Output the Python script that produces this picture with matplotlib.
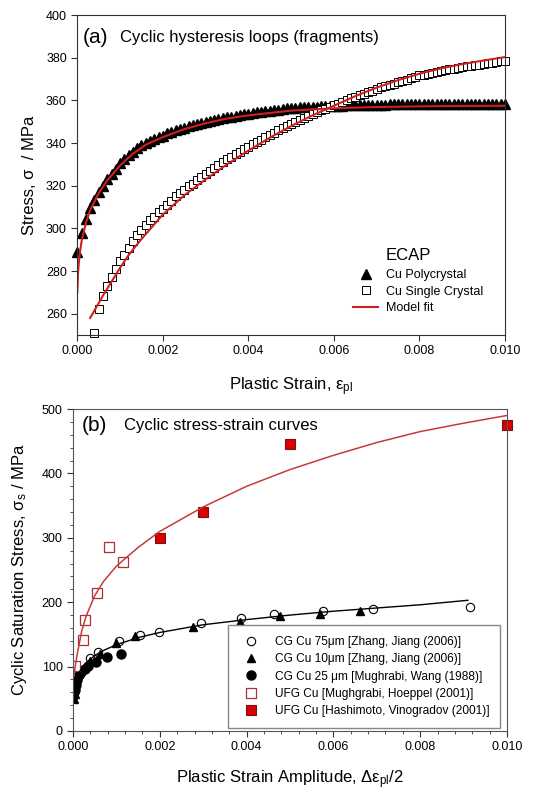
import matplotlib.pyplot as plt
import numpy as np

plt.rcParams["font.family"] = ["Liberation Sans", "DejaVu Sans"]
plt.rcParams["mathtext.fontset"] = "custom"
plt.rcParams["mathtext.rm"] = "Liberation Sans"
plt.rcParams["mathtext.it"] = "Liberation Sans"

# ---- (a) cyclic hysteresis loop fragments, sampled every 0.0001 strain
strain_poly = np.arange(0, 101) / 10000
stress_poly = [
    289, 298, 304.5, 309.5, 313.5, 317, 320, 323, 325.5, 328,
    330.5, 332.5, 334.5, 336, 337.5, 339, 340, 341, 342, 343,
    343.5, 344.5, 345.2, 346, 346.5, 347.2, 347.8, 348.4, 349, 349.5,
    350, 350.5, 351, 351.3, 351.7, 352, 352.4, 352.8, 353.1, 353.5,
    353.8, 354.1, 354.4, 354.7, 355, 355.2, 355.5, 355.7, 356, 356.2,
    356.4, 356.6, 356.7, 356.8, 356.9, 357, 357.1, 357.2, 357.3, 357.4,
    357.5, 357.6, 357.6, 357.7, 357.7, 357.8, 357.8, 357.9, 357.9, 358,
    358, 358, 358, 358.1, 358.1, 358.1, 358.1, 358.2, 358.2, 358.2,
    358.2, 358.2, 358.3, 358.3, 358.3, 358.3, 358.3, 358.3, 358.4, 358.4,
    358.4, 358.4, 358.4, 358.4, 358.4, 358.5, 358.5, 358.5, 358.5, 358.5,
    358.5,
]
strain_single = np.arange(4, 101) / 10000
stress_single = [
    251, 262, 268.2, 272.8, 277.2, 280.8,
    284.5, 287.5, 291, 294, 296.8, 299.3, 301.7, 303.8, 305.5, 307.5,
    309.2, 311, 313, 315, 316.5, 318, 319.8, 321, 322.5, 324,
    325.3, 326.8, 328.2, 329.6, 331, 332.3, 333.5, 334.8, 336, 337.1,
    338.2, 339.4, 340.5, 341.6, 342.7, 343.8, 344.9, 346, 347, 348,
    349, 350, 350.9, 351.8, 352.7, 353.6, 354.5, 355.3, 356.1, 356.9,
    357.7, 358.5, 359.3, 360.1, 360.9, 361.7, 362.4, 363.1, 363.8, 364.6,
    365.5, 366.1, 366.7, 367.3, 367.9, 368.5, 369.1, 369.7, 370.3, 371,
    371.7, 372.1, 372.5, 372.9, 373.3, 373.7, 374.1, 374.5, 374.9, 375.2,
    375.6, 375.9, 376.2, 376.5, 376.8, 377.1, 377.4, 377.7, 378, 378.3,
    378.7,
]
fit_poly_strain = [0, 0.00002, 0.00005, 0.0001, 0.0002, 0.0003, 0.0005, 0.0007,
                   0.001, 0.0013, 0.0016, 0.002, 0.0025, 0.003, 0.0035, 0.004,
                   0.005, 0.006, 0.007, 0.008, 0.009, 0.01]
fit_poly_stress = [270, 280, 287, 294, 302.5, 308.5, 316.5, 322.5,
                   329.5, 335, 339.2, 342.8, 346.5, 349.3, 351.5, 353,
                   355.2, 356.3, 356.9, 357.2, 357.4, 357.5]
fit_single_strain = [0.0003, 0.0004, 0.0005, 0.0006, 0.0008, 0.001, 0.0012, 0.0015,
                     0.002, 0.0025, 0.003, 0.0035, 0.004, 0.0045, 0.005, 0.0055,
                     0.006, 0.0065, 0.007, 0.0075, 0.008, 0.0085, 0.009, 0.0095, 0.01]
fit_single_stress = [258, 261.5, 265, 268.5, 275, 281.5, 287.5, 295,
                     306.5, 315.5, 323, 330, 336.5, 342.5, 348, 353,
                     357.5, 362, 366, 369.5, 372.5, 375, 377, 378.7, 380.3]

# ---- (b) cyclic stress-strain curves
cg75_strain = [0.00005, 0.00015, 0.00025, 0.0004, 0.00058, 0.00106, 0.00154, 0.00198,
               0.00296, 0.00386, 0.00464, 0.00575, 0.00691, 0.00915]
cg75_stress = [72, 88, 97, 114, 123, 139, 149, 153, 167, 175, 182, 187, 189, 193]
cg10_strain = [0.00002, 0.00005, 0.0004, 0.00062, 0.00098, 0.00144, 0.00277,
               0.00385, 0.00477, 0.0057, 0.00662]
cg10_stress = [50, 58, 108, 120, 136, 147, 162, 169, 178, 182, 186]
cg25_strain = [0.00001, 0.00002, 0.00004, 0.00006, 0.00009, 0.00014, 0.00019,
               0.00027, 0.00034, 0.00054, 0.00078, 0.0011]
cg25_stress = [55, 60, 64, 71, 79, 87, 92, 97, 101, 107, 115, 119]
ufg_mh_strain = [0.00005, 0.00022, 0.00027, 0.00055, 0.00083, 0.00115]
ufg_mh_stress = [101, 141, 172, 214, 285, 262]
ufg_hv_strain = [0.002, 0.003, 0.005, 0.010]
ufg_hv_stress = [300, 340, 445, 475]
fit_cg_strain = [0.00001, 0.00003, 0.00006, 0.0001, 0.0002, 0.0003, 0.0005, 0.0007,
                 0.001, 0.0015, 0.002, 0.003, 0.004, 0.005, 0.006, 0.007, 0.008, 0.0091]
fit_cg_stress = [55, 68, 78, 86, 98, 106, 117, 125, 134, 145, 153, 165, 173, 180,
                 186, 191, 196, 203]
fit_ufg_strain = [0.00002, 0.00005, 0.0001, 0.0002, 0.0003, 0.0005, 0.0007, 0.001,
                  0.0015, 0.002, 0.003, 0.004, 0.005, 0.006, 0.007, 0.008, 0.009, 0.010]
fit_ufg_stress = [85, 100, 120, 155, 178, 210, 232, 256, 285, 310, 348, 380, 406,
                  428, 448, 465, 478, 490]

red = "#d0201e"
xticks = [0, 0.002, 0.004, 0.006, 0.008, 0.010]
xticklabels = ["0.000", "0.002", "0.004", "0.006", "0.008", "0.010"]

fig = plt.figure(figsize=(5.53, 7.93), dpi=100)
ax1 = fig.add_axes([0.1398, 0.5775, 0.7734, 0.4035])
ax2 = fig.add_axes([0.132, 0.0782, 0.7848, 0.406])

# panel (a)
ax1.plot(strain_poly, stress_poly, ls="none", marker="^", ms=6.5, color="black",
         clip_on=False, label="Cu Polycrystal")
ax1.plot(strain_single, stress_single, ls="none", marker="s", ms=6, mfc="white",
         mec="black", mew=0.7, clip_on=False, label="Cu Single Crystal")
ax1.plot(fit_poly_strain, fit_poly_stress, color=red, lw=1.5, label="Model fit")
ax1.plot(fit_single_strain, fit_single_stress, color=red, lw=1.5)

ax1.set_xlim(0, 0.01)
ax1.set_ylim(250, 400)
ax1.set_xticks(xticks)
ax1.set_xticklabels(xticklabels)
ax1.set_yticks(range(260, 401, 20))
ax1.tick_params(labelsize=9, direction="out", length=4, color="#333333")
for s in ax1.spines.values():
    s.set_color("#333333")
ax1.set_xlabel(r"Plastic Strain, $\mathregular{\varepsilon_{pl}}$", fontsize=12)
ax1.set_ylabel(r"Stress, σ  / MPa", fontsize=12)
ax1.xaxis.set_label_coords(0.5, -0.125)
ax1.yaxis.set_label_coords(-0.094, 0.5)
ax1.text(0.012, 0.93, "(a)", transform=ax1.transAxes, fontsize=15, va="center")
ax1.text(0.1, 0.93, "Cyclic hysteresis loops (fragments)", transform=ax1.transAxes,
         fontsize=12, va="center")
ax1.text(0.72, 0.25, "ECAP", transform=ax1.transAxes, fontsize=12, va="center")
ax1.legend(loc="upper left", bbox_to_anchor=(0.645, 0.205), frameon=False,
           fontsize=9, handlelength=2, handletextpad=0.6, labelspacing=0.35,
           borderpad=0, borderaxespad=0)

# panel (b)
ax2.plot(cg75_strain, cg75_stress, ls="none", marker="o", ms=6, mfc="white",
         mec="black", mew=0.8, label="CG Cu 75μm [Zhang, Jiang (2006)]")
ax2.plot(cg10_strain, cg10_stress, ls="none", marker="^", ms=6, color="black",
         label="CG Cu 10μm [Zhang, Jiang (2006)]")
ax2.plot(cg25_strain, cg25_stress, ls="none", marker="o", ms=6.5, color="black",
         label="CG Cu 25 μm [Mughrabi, Wang (1988)]")
ax2.plot(ufg_mh_strain, ufg_mh_stress, ls="none", marker="s", ms=7, mfc="white",
         mec="#a83232", mew=0.9, label="UFG Cu [Mughgrabi, Hoeppel (2001)]")
ax2.plot(ufg_hv_strain, ufg_hv_stress, ls="none", marker="s", ms=7, mfc="#dd0000",
         mec="#7a1010", mew=0.8, clip_on=False,
         label="UFG Cu [Hashimoto, Vinogradov (2001)]")
ax2.plot(fit_cg_strain, fit_cg_stress, color="black", lw=1.0)
ax2.plot(fit_ufg_strain, fit_ufg_stress, color="#c83a3a", lw=1.1)

ax2.set_xlim(0, 0.01)
ax2.set_ylim(0, 500)
ax2.set_xticks(xticks)
ax2.set_xticklabels(xticklabels)
ax2.set_xticks(np.arange(0, 0.0101, 0.0004), minor=True)
ax2.set_yticks(range(0, 501, 100))
ax2.set_yticks(range(0, 501, 20), minor=True)
ax2.tick_params(labelsize=9, direction="out", length=4, color="#333333")
ax2.tick_params(which="minor", direction="out", length=2.5, color="#333333")
for s in ax2.spines.values():
    s.set_color("#555555")
ax2.set_xlabel(r"Plastic Strain Amplitude, $\mathregular{\Delta\varepsilon_{pl}}$/2",
               fontsize=12)
ax2.set_ylabel(r"Cyclic Saturation Stress, $\mathregular{\sigma_s}$ / MPa", fontsize=12)
ax2.xaxis.set_label_coords(0.5, -0.115)
ax2.yaxis.set_label_coords(-0.101, 0.5)
ax2.text(0.021, 0.95, "(b)", transform=ax2.transAxes, fontsize=15, va="center")
ax2.text(0.118, 0.95, "Cyclic stress-strain curves", transform=ax2.transAxes,
         fontsize=12, va="center")
leg = ax2.legend(loc="lower right", bbox_to_anchor=(0.984, 0.009), fontsize=8.6,
                 fancybox=False, edgecolor="#888888", framealpha=1,
                 handletextpad=1.0, labelspacing=0.45, borderpad=0.9,
                 borderaxespad=0)

fig.savefig("out.png", dpi=100)
